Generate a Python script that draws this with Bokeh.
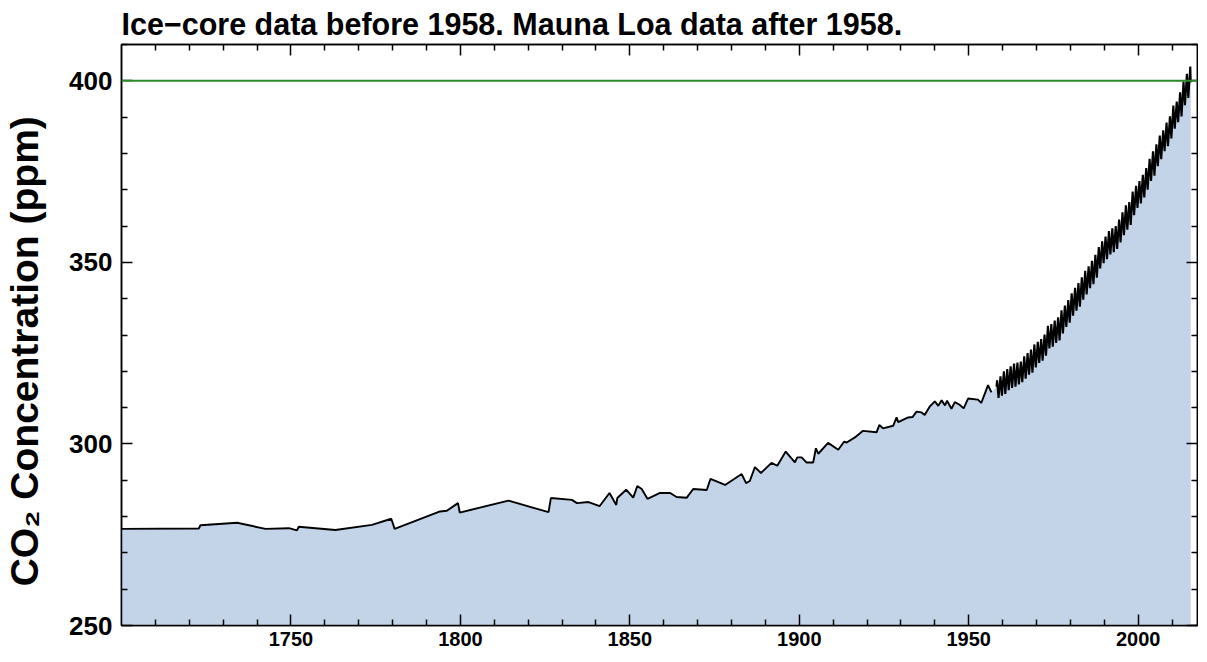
from bokeh.plotting import figure
from bokeh.models import LinearAxis, FixedTicker, Span, Range1d, CustomJSTickFormatter, Title
from bokeh.embed import file_html
from bokeh.resources import INLINE

# ---------------- data ----------------
TITLE = "Ice\u2212core data before 1958. Mauna Loa data after 1958."
Y_LABEL = "CO\u2082 Concentration (ppm)"

X_TICKS = [1750, 1800, 1850, 1900, 1950, 2000]
X_MINOR = [1710, 1720, 1730, 1740, 1760, 1770, 1780, 1790, 1810, 1820, 1830, 1840,
           1860, 1870, 1880, 1890, 1910, 1920, 1930, 1940, 1960, 1970, 1980, 1990, 2010]
Y_TICKS = [250, 300, 350, 400]
Y_MINOR = [260, 270, 280, 290, 310, 320, 330, 340, 360, 370, 380, 390, 410]

REF_LEVEL = 400
BASE_LEVEL = 250

# Ice-core record (year, ppm)
ice_year = [1700, 1722.8, 1723.3, 1734.1, 1742.5, 1749.4, 1751.8, 1752.3, 1763.1, 1773.9,
            1779.6, 1780.6, 1794.0, 1796.0, 1799.3, 1799.8, 1814.2, 1826.0, 1826.7, 1832.9,
            1834.4, 1837.8, 1841.1, 1844.0, 1846.0, 1846.3, 1848.9, 1851.0, 1852.2, 1853.5,
            1855.2, 1858.9, 1861.9, 1863.8, 1866.8, 1868.7, 1872.7, 1873.8, 1878.1, 1883.0,
            1884.3, 1885.4, 1886.9, 1888.7, 1891.8, 1893.5, 1896.0, 1898.7, 1899.4, 1900.7,
            1902.1, 1904.1, 1904.9, 1905.6, 1908.5, 1911.5, 1913.2, 1914.0, 1916.4, 1918.8,
            1922.8, 1923.6, 1924.7, 1927.7, 1928.7, 1929.2, 1932.1, 1933.4, 1934.6, 1936.0,
            1937.0, 1938.5, 1940.0, 1941.0, 1942.0, 1943.0, 1943.6, 1944.9, 1945.9, 1947.3,
            1948.5, 1949.8, 1952.7, 1953.7, 1955.7, 1956.7]
ice_co2 = [276.6, 276.7, 277.6, 278.3, 276.6, 276.8, 276.2, 277.2, 276.3, 277.7,
           279.4, 276.6, 281.4, 281.6, 283.7, 281.1, 284.4, 281.2, 285.1, 284.6,
           283.7, 284.0, 282.9, 286.5, 283.2, 285.1, 287.4, 285.2, 288.4, 287.6,
           284.9, 286.5, 286.5, 285.4, 285.2, 287.6, 287.3, 290.4, 288.7, 291.7,
           289.2, 289.8, 293.6, 292.0, 294.8, 294.0, 297.9, 294.9, 296.3, 296.3,
           294.9, 294.9, 298.8, 297.3, 300.3, 298.4, 300.6, 300.4, 301.8, 303.6,
           303.2, 305.2, 304.3, 305.0, 307.3, 306.0, 307.3, 307.4, 308.9, 308.7,
           308.0, 310.3, 311.7, 310.5, 312.0, 310.6, 311.9, 309.7, 311.5, 310.8,
           309.8, 312.5, 312.2, 311.3, 316.2, 314.2]

# Mauna Loa record: yearly spring maximum and autumn minimum (ppm)
ml_years = list(range(1958, 2016))
ml_max = [317.5, 318.6, 320.0, 320.6, 321.4, 322.1, 322.4, 322.7, 324.1, 325.0,
          326.0, 327.4, 328.1, 328.9, 330.1, 332.5, 333.0, 334.0, 334.9, 336.8,
          338.1, 339.6, 341.5, 343.0, 344.3, 345.9, 347.7, 348.9, 350.4, 352.1,
          354.2, 355.8, 357.1, 358.6, 359.4, 360.0, 361.8, 363.8, 365.7, 366.6,
          369.5, 371.1, 372.4, 374.1, 376.0, 378.5, 380.6, 382.5, 384.9, 386.4,
          388.5, 390.2, 393.2, 394.3, 396.8, 399.8, 401.9, 403.9]
ml_min = [312.7, 313.3, 313.8, 314.8, 315.4, 315.8, 316.4, 317.0, 318.0, 319.1,
          319.6, 321.1, 322.3, 322.9, 324.3, 326.3, 326.8, 327.8, 328.5, 330.4,
          332.2, 333.4, 335.3, 336.7, 337.8, 339.7, 341.2, 342.9, 344.0, 345.8,
          348.3, 349.8, 350.9, 352.2, 352.8, 353.7, 355.5, 357.5, 359.0, 360.3,
          363.0, 365.0, 366.2, 367.9, 370.0, 372.4, 373.9, 376.5, 378.4, 380.6,
          382.0, 384.1, 386.8, 388.6, 390.2, 393.3, 395.3]
ml_first = (1958.2, 315.7)
ml_last = (2015.5, 399.6)
MAX_MONTH = 0.37   # May
MIN_MONTH = 0.79   # October

# -------------- build series --------------
ml_x = [ml_first[0]]
ml_y = [ml_first[1]]
for i, yr in enumerate(ml_years):
    ml_x.append(yr + MAX_MONTH)
    ml_y.append(ml_max[i])
    if i < len(ml_min):
        ml_x.append(yr + MIN_MONTH)
        ml_y.append(ml_min[i])
ml_x.append(ml_last[0])
ml_y.append(ml_last[1])

all_x = ice_year + ml_x
all_y = ice_co2 + ml_y

# -------------- figure --------------
FONT = "Liberation Sans"

p = figure(frame_width=1076, frame_height=581, output_backend="svg", toolbar_location=None,
           x_range=Range1d(1700, 2017.5), y_range=Range1d(250, 410),
           min_border_left=114, min_border_right=1, min_border_top=0, min_border_bottom=0)
p.background_fill_color = "white"
p.border_fill_color = "white"
p.grid.visible = False
p.outline_line_color = "black"
p.outline_line_width = 1.5

p.varea(x=all_x, y1=BASE_LEVEL, y2=all_y, fill_color="#c3d4e8", fill_alpha=1.0)
p.line(ice_year, ice_co2, line_color="black", line_width=1.9)
p.line(ml_x, ml_y, line_color="black", line_width=2.1)
p.add_layout(Span(location=REF_LEVEL, dimension="width", line_color="#2a8a2a", line_width=2))

def style_axis(ax, ticks, minor, font_size, labels=True):
    ax.ticker = FixedTicker(ticks=ticks, minor_ticks=minor)
    ax.axis_line_color = "black"
    ax.axis_line_width = 1.5
    ax.major_tick_line_color = "black"
    ax.major_tick_line_width = 1.5
    ax.minor_tick_line_color = "black"
    ax.minor_tick_line_width = 1.5
    ax.major_tick_in = 11
    ax.major_tick_out = 0
    ax.minor_tick_in = 6
    ax.minor_tick_out = 0
    ax.major_label_text_font = FONT
    ax.major_label_text_font_size = font_size
    ax.major_label_text_font_style = "bold"
    ax.major_label_text_color = "black"
    if not labels:
        ax.formatter = CustomJSTickFormatter(code="return ''")
        ax.major_label_standoff = 0

xa = p.xaxis[0]
style_axis(xa, X_TICKS, X_MINOR, "20px")
xa.major_label_standoff = 6

ya = p.yaxis[0]
style_axis(ya, Y_TICKS, Y_MINOR, "26px")
ya.major_label_standoff = 9
ya.axis_label = Y_LABEL + "\u00a0\u00a0\u00a0"
ya.axis_label_text_font = FONT
ya.axis_label_text_font_size = "39px"
ya.axis_label_text_font_style = "bold"
ya.axis_label_text_color = "black"
ya.axis_label_standoff = 20

top = LinearAxis()
style_axis(top, X_TICKS, X_MINOR, "1px", labels=False)
p.add_layout(top, "above")
right = LinearAxis()
style_axis(right, Y_TICKS, Y_MINOR, "1px", labels=False)
p.add_layout(right, "right")

title = Title(text=TITLE, text_font=FONT, text_font_size="30.5px", text_font_style="bold",
              text_color="black", align="left", standoff=8, offset=0)
p.add_layout(title, "above")

open("out.html", "w").write(file_html(p, INLINE))
